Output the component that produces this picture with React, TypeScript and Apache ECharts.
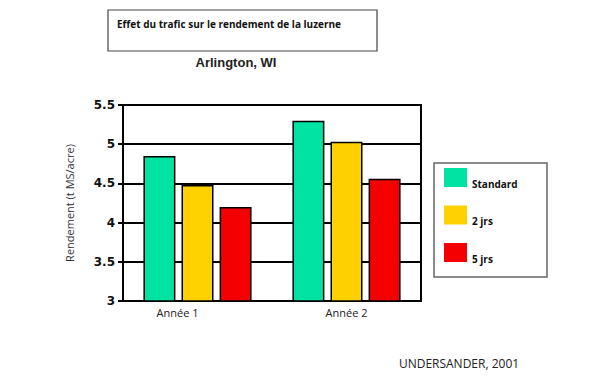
import React, { useEffect, useRef } from "react";
import * as echarts from "echarts";

const categories = ["Année 1", "Année 2"];
const seriesNames = ["Standard", "2 jrs", "5 jrs"];
const standardValues = [4.85, 5.3];
const twoDayValues = [4.48, 5.03];
const fiveDayValues = [4.2, 4.56];
const yTicks = { min: 3, max: 5.5, interval: 0.5 };
const colors = ["#00E3A3", "#FFD100", "#F40000"];

export default function App() {
  const ref = useRef<HTMLDivElement>(null);
  useEffect(() => {
    if (!ref.current) return;
    const chart = echarts.init(ref.current, undefined, { renderer: "svg" });
    const values = [standardValues, twoDayValues, fiveDayValues];
    chart.setOption({
      animation: false,
      backgroundColor: "#ffffff",
      grid: {
        left: 123,
        right: 188,
        top: 105,
        bottom: 78,
        show: true,
        borderColor: "#000",
        borderWidth: 2,
        backgroundColor: "transparent",
      },
      xAxis: {
        type: "category",
        data: categories,
        axisLine: { lineStyle: { color: "#000", width: 2 } },
        axisTick: { show: false },
        axisLabel: {
          color: "#222",
          fontFamily: "Open Sans",
          fontSize: 11,
          margin: 6,
          formatter: (v: string, i: number) => (i === 0 ? "{a|" + v + "}" : "{b|" + v + "}"),
          rich: {
            a: { padding: [0, 40, 0, 0], color: "#222", fontFamily: "Open Sans", fontSize: 11 },
            b: { color: "#222", fontFamily: "Open Sans", fontSize: 11 },
          },
        },
      },
      yAxis: {
        type: "value",
        min: yTicks.min,
        max: yTicks.max,
        interval: yTicks.interval,
        name: "Rendement (t MS/acre)",
        nameLocation: "middle",
        nameGap: 48,
        nameTextStyle: { color: "#333", fontFamily: "Open Sans", fontSize: 11 },
        axisLine: { show: true, lineStyle: { color: "#000", width: 2 } },
        axisTick: { show: true, length: 5, lineStyle: { color: "#000", width: 2 } },
        axisLabel: {
          color: "#111",
          fontFamily: "DejaVu Sans",
          fontWeight: "bold",
          fontSize: 12,
          margin: 8,
        },
        splitLine: { lineStyle: { color: "#000", width: 2 } },
      },
      legend: {
        orient: "vertical",
        left: 444,
        top: 168,
        padding: 0,
        itemWidth: 23,
        itemHeight: 19,
        itemGap: 17,
        icon: "rect",
        itemStyle: { borderWidth: 0 },
        formatter: "{t|{name}}",
        textStyle: {
          color: "#111",
          fontFamily: "Open Sans",
          fontWeight: "bold",
          fontSize: 10,
          rich: {
            t: {
              color: "#111",
              fontFamily: "Open Sans",
              fontWeight: "bold",
              fontSize: 10,
              padding: [12, 0, 0, 0],
            },
          },
        },
        data: seriesNames,
      },
      graphic: [
        {
          type: "rect",
          shape: { x: 108, y: 10, width: 269, height: 41 },
          style: { fill: "#fff", stroke: "#444", lineWidth: 1.2 },
          z: 0,
        },
        {
          type: "text",
          x: 117,
          y: 24,
          style: {
            text: "Effet du trafic sur le rendement de la luzerne",
            fontFamily: "Open Sans",
            fontWeight: "bold",
            fontSize: 10,
            fill: "#111",
            verticalAlign: "middle",
          },
        },
        {
          type: "text",
          x: 236,
          y: 62,
          style: {
            text: "Arlington, WI",
            fontFamily: "Liberation Sans",
            fontWeight: "bold",
            fontSize: 13,
            fill: "#222",
            align: "center",
            verticalAlign: "middle",
          },
        },
        {
          type: "rect",
          shape: { x: 434, y: 163, width: 113, height: 114 },
          style: { fill: "#fff", stroke: "#666", lineWidth: 1.5 },
          z: -1,
        },
        {
          type: "text",
          x: 459,
          y: 363,
          style: {
            text: "UNDERSANDER, 2001",
            fontFamily: "Open Sans",
            fontSize: 12,
            fill: "#222",
            align: "center",
            verticalAlign: "middle",
          },
        },
      ],
      series: seriesNames.map((name, i) => ({
        name,
        type: "bar",
        data: values[i],
        barWidth: 32,
        barGap: "19%",
        itemStyle: { color: colors[i], borderColor: "#000", borderWidth: 1.5 },
      })),
    });
    return () => chart.dispose();
  }, []);
  return (
    <div
      ref={ref}
      style={{ position: "fixed", left: 0, top: 0, width: 609, height: 379, background: "#fff" }}
    />
  );
}
